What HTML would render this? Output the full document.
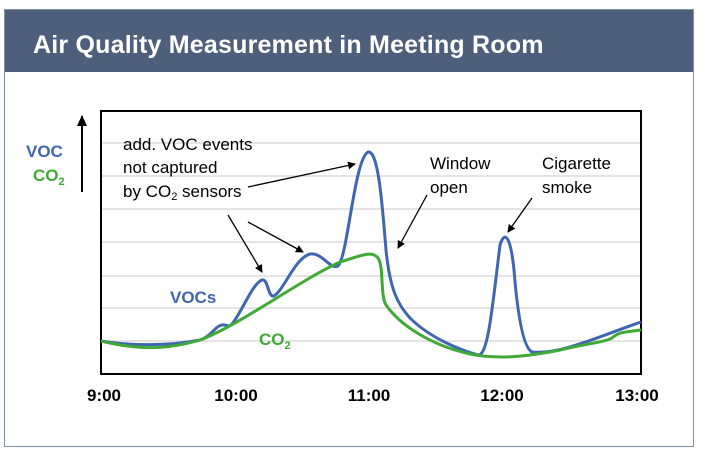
<!DOCTYPE html>
<html><head><meta charset="utf-8"><style>
body{margin:0;background:#fff;width:705px;height:455px;overflow:hidden}
</style></head><body>
<svg width="705" height="455" viewBox="0 0 705 455" xmlns="http://www.w3.org/2000/svg" font-family="Liberation Sans, sans-serif">
<defs><marker id="ah" markerWidth="8" markerHeight="8" refX="7" refY="4" orient="auto" markerUnits="userSpaceOnUse"><path d="M0,0 L8,4 L0,8 Z" fill="#000"/></marker>
<marker id="ah2" markerWidth="12" markerHeight="12" refX="10" refY="6" orient="auto" markerUnits="userSpaceOnUse"><path d="M0,1 L11,6 L0,11 Z" fill="#000"/></marker></defs>
<rect x="4.5" y="9.5" width="689" height="437" fill="#fff" stroke="#8090a8"/>
<rect x="5" y="10" width="688" height="62" fill="#4d5f7a"/>
<text x="33" y="53" fill="#fff" font-size="25" font-weight="bold" letter-spacing="0.2">Air Quality Measurement in Meeting Room</text>
<g stroke="#dcdcdc" stroke-width="1.5">
<line x1="101" x2="641" y1="143" y2="143"/><line x1="101" x2="641" y1="176" y2="176"/><line x1="101" x2="641" y1="209" y2="209"/><line x1="101" x2="641" y1="242" y2="242"/><line x1="101" x2="641" y1="276" y2="276"/><line x1="101" x2="641" y1="308" y2="308"/><line x1="101" x2="641" y1="341" y2="341"/>
</g>
<rect x="101" y="111" width="540" height="263" fill="none" stroke="#000" stroke-width="2"/>
<path d="M101,341 C130,346 170,346 200,340 C212,336 215,326 222,325 C226,324 228,328 232,324 C242,312 252,284 262,280 C268,278 268,298 274,296 C284,290 295,258 310,254 C322,252 330,270 338,266 C348,256 354,160 368,152 C378,150 382,200 386,250 C390,290 398,305 410,318 C430,338 460,350 478,355 C488,356 492,310 500,245 C504,232 510,232 514,270 C518,320 524,348 532,352 C560,355 600,336 641,322" fill="none" stroke="#3f66b0" stroke-width="3"/>
<path d="M101,341 C130,348 160,352 200,340 C240,325 300,280 340,262 C360,256 372,250 378,258 C384,266 380,295 386,305 C400,325 430,345 470,354 C500,360 530,356 560,350 C590,343 605,342 612,338 C618,332 625,332 641,330" fill="none" stroke="#3faa35" stroke-width="3"/>
<g font-size="17" font-weight="bold" fill="#000" text-anchor="middle">
<text x="104" y="401">9:00</text><text x="236" y="401">10:00</text><text x="369" y="401">11:00</text><text x="502" y="401">12:00</text><text x="637" y="401">13:00</text>
</g>
<text x="26" y="157" font-size="17" font-weight="bold" fill="#3f66b0">VOC</text>
<text x="33" y="181" font-size="17" font-weight="bold" fill="#3faa35">CO<tspan font-size="11" dy="4">2</tspan></text>
<line x1="82" y1="192" x2="82" y2="116" stroke="#000" stroke-width="2" marker-end="url(#ah2)"/>
<text x="170" y="303" font-size="17" font-weight="bold" fill="#3f66b0">VOCs</text>
<text x="259" y="345" font-size="17" font-weight="bold" fill="#3faa35">CO<tspan font-size="11" dy="4">2</tspan></text>
<g font-size="17" fill="#000">
<text x="123" y="150">add. VOC events</text>
<text x="123" y="173">not captured</text>
<text x="123" y="197">by CO<tspan font-size="11" dy="3">2</tspan><tspan dy="-3"> sensors</tspan></text>
<text x="430" y="169">Window</text><text x="430" y="193">open</text>
<text x="542" y="169">Cigarette</text><text x="542" y="193">smoke</text>
</g>
<g stroke="#000" stroke-width="1.3" marker-end="url(#ah)">
<line x1="248" y1="187" x2="355" y2="164"/>
<line x1="228" y1="215" x2="262" y2="272"/>
<line x1="248" y1="222" x2="303" y2="252"/>
<line x1="427" y1="195" x2="398" y2="248"/>
<line x1="532" y1="198" x2="508" y2="232"/>
</g>
</svg>
</body></html>
